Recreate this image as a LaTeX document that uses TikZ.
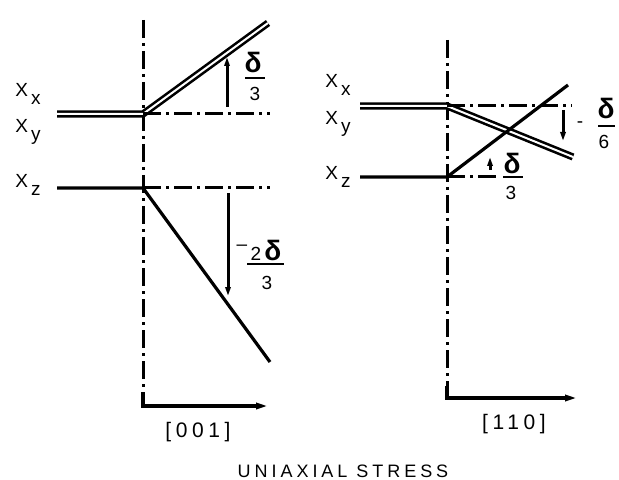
\documentclass[tikz,border=0pt]{standalone}
\usepackage{fontspec}
\setmainfont{Liberation Sans}
\newfontfamily\spaced[LetterSpace=22]{Liberation Sans}
\usetikzlibrary{arrows.meta}
\newcommand{\lvl}[1]{X\hspace{1.5pt}\raisebox{-3.6pt}{#1}}
\newcommand{\dlt}{{\fontsize{14}{14}\selectfont\bfseries δ}}

\begin{document}
\begin{tikzpicture}[x=0.5pt, y=-0.5pt, font=\fontsize{9.5}{10}\selectfont,
      >={Triangle[length=4.5pt, width=2.6pt]},
      lv/.style={line width=1.6pt},
      dbl/.style={double, line width=1.3pt, double distance=1pt},
      ddot/.style={line width=1.5pt, dash pattern=on 9pt off 2.5pt on 1.5pt off 2.5pt},
      axis/.style={line width=1.6pt, -{Triangle[length=6pt, width=3pt]}},
      splitarrow/.style={line width=1.5pt, ->},
      tag/.style={anchor=base west, inner sep=0pt},
      num/.style={inner sep=0pt},
      bar/.style={line width=1.2pt},
      dirn/.style={font=\spaced\fontsize{10.5}{12}\selectfont},
      caption/.style={font=\spaced\fontsize{9}{10}\selectfont}]
  \useasboundingbox (0,0) rectangle (619,480);
  % [001]
  \coordinate (top1) at (143,20);
  \coordinate (c1) at (143,392);
  \coordinate (end1) at (268,406);
  \coordinate (xx1) at (57,114);
  \coordinate (o1) at (143,114);
  \coordinate (up1) at (268,23);
  \coordinate (r1) at (270,114);
  \coordinate (xz1) at (57,188);
  \coordinate (z1) at (143,188);
  \coordinate (dn1) at (270,362);
  \coordinate (rz1) at (270,188);
  \draw[ddot] (top1) -- (c1);
  \draw[axis] (c1) |- (end1);
  \draw[dbl] (xx1) -- (o1) -- (up1);
  \draw[ddot] (o1) -- (r1);
  \draw[lv] (xz1) -- (z1) -- (dn1);
  \draw[ddot] (z1) -- (rz1);
  \coordinate (a1) at (227,107); \coordinate (a1e) at (227,57);
  \coordinate (b1) at (228,193); \coordinate (b1e) at (228,296);
  \draw[splitarrow] (a1) -- (a1e);
  \draw[splitarrow] (b1) -- (b1e);
  \node[tag] (lx1) at (15,97) {\lvl{x}};
  \node[tag] (ly1) at (15,133) {\lvl{y}};
  \node[tag] (lz1) at (15,188) {\lvl{z}};
  \node[num] (d1) at (253,62) {\dlt};
  \draw[bar] (245,78) coordinate (f1) -- (265,78) coordinate (f1e);
  \node[num] (t1) at (255,94) {3};
  \node[num, anchor=base] (d2) at (266,260) {2\,\dlt};
  \node[num] (m2) at (242,248) {–};
  \draw[bar] (247,264) coordinate (f2) -- (284,264) coordinate (f2e);
  \node[num] (t2) at (267,283) {3};
  \node[dirn] (k1) at (198,432) {[001]};
  % [110]
  \coordinate (top2) at (447,40);
  \coordinate (c2) at (447,386);
  \coordinate (end2) at (577,398);
  \coordinate (xx2) at (360,106);
  \coordinate (o2) at (447,106);
  \coordinate (dn2) at (573,157);
  \coordinate (r2) at (572,106);
  \coordinate (xz2) at (360,177);
  \coordinate (z2) at (447,177);
  \coordinate (up2) at (568,85);
  \coordinate (rz2) at (500,177);
  \draw[ddot] (top2) -- (c2);
  \draw[axis] (c2) |- (end2);
  \draw[dbl] (xx2) -- (o2) -- (dn2);
  \draw[ddot] (o2) -- (r2);
  \draw[lv] (xz2) -- (z2) -- (up2);
  \draw[ddot] (z2) -- (rz2);
  \coordinate (a2) at (563,110); \coordinate (a2e) at (563,141);
  \coordinate (b2) at (490,170); \coordinate (b2e) at (490,157);
  \draw[splitarrow] (a2) -- (a2e);
  \draw[splitarrow] (b2) -- (b2e);
  \node[tag] (lx2) at (325,88) {\lvl{x}};
  \node[tag] (ly2) at (325,125) {\lvl{y}};
  \node[tag] (lz2) at (325,180) {\lvl{z}};
  \node[num] (m3) at (580,125) {-};
  \node[num] (d3) at (606,108) {\dlt};
  \draw[bar] (598,126) coordinate (f3) -- (615,126) coordinate (f3e);
  \node[num] (t3) at (604,142) {6};
  \node[num] (d4) at (512,163) {\dlt};
  \draw[bar] (503,177) coordinate (f4) -- (523,177) coordinate (f4e);
  \node[num] (t4) at (511,193) {3};
  \node[dirn] (k2) at (514,424) {[110]};
  \node[caption] (title) at (343,471) {UNIAXIAL STRESS};
\end{tikzpicture}
\end{document}
